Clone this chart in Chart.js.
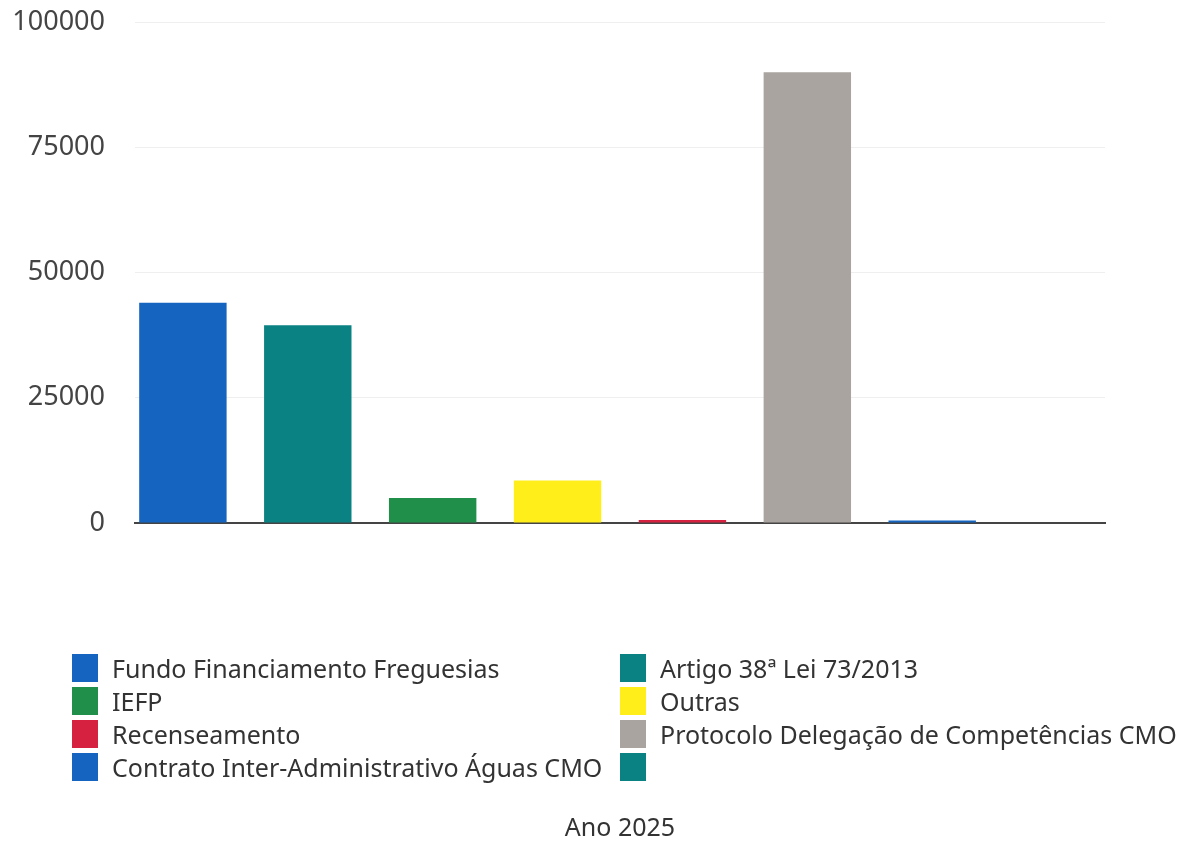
<!DOCTYPE html>
<html>
<head>
<meta charset="utf-8">
<script src="https://cdn.jsdelivr.net/npm/chart.js@4"></script>
<style>
  html, body { margin: 0; padding: 0; background: #fff; }
  #wrap { position: relative; width: 1188px; height: 841px; }
  #legend {
    position: absolute; left: 72px; top: 654px;
    display: grid; grid-template-columns: 548px 560px;
    row-gap: 5px;
    font-family: "Noto Sans", sans-serif; font-size: 25px; color: #333;
    white-space: nowrap;
  }
  .item { display: flex; align-items: center; height: 28px; }
  .box { width: 26px; height: 28px; margin-right: 14px; flex: none; }
</style>
</head>
<body>
<div id="wrap">
  <canvas id="chart" width="1188" height="841"></canvas>
  <div id="legend"></div>
</div>
<script>
const seriesNames = [
  'Fundo Financiamento Freguesias',
  'Artigo 38ª Lei 73/2013',
  'IEFP',
  'Outras',
  'Recenseamento',
  'Protocolo Delegação de Competências CMO',
  'Contrato Inter-Administrativo Águas CMO',
  ''
];
const seriesValues = [44000, 39500, 5000, 8500, 600, 90000, 500, 0];
const seriesColors = ['#1565c0', '#0a8284', '#1f8f4a', '#ffee1a', '#d62240', '#a9a49f', '#1565c0', '#0a8284'];
const categories = [''];
const xTitle = 'Ano 2025';

const datasets = seriesNames.map((name, i) => ({
  label: name,
  data: [seriesValues[i]],
  backgroundColor: seriesColors[i],
  borderWidth: 0,
  barPercentage: 0.7,
  categoryPercentage: 1.03
}));

const ctx = document.getElementById('chart').getContext('2d');
const chart = new Chart(ctx, {
  type: 'bar',
  data: { labels: categories, datasets: datasets },
  options: {
    responsive: false,
    animation: false,
    layout: { padding: { top: 4, left: 8, right: 83, bottom: 0 } },
    plugins: { legend: { display: false }, tooltip: { enabled: false } },
    scales: {
      x: {
        grid: { display: false, drawTicks: false },
        border: { color: '#444', width: 2 },
        ticks: { display: false },
        title: {
          display: true, text: xTitle, color: '#333',
          font: { family: 'Noto Sans', size: 25, lineHeight: 1 },
          padding: { top: 293, bottom: 0 }
        }
      },
      y: {
        min: 0, max: 100000,
        afterFit: (scale) => { scale.width = 127; },
        ticks: {
          stepSize: 25000, color: '#444', padding: 6,
          font: { family: 'Noto Sans', size: 27 },
          callback: (v) => String(v)
        },
        grid: { color: '#efefef', drawTicks: true, tickLength: 24, tickColor: 'rgba(0,0,0,0)' },
        border: { display: false }
      }
    }
  }
});

// legend in two columns, built from the chart's datasets
const legendEl = document.getElementById('legend');
chart.data.datasets.forEach(ds => {
  const item = document.createElement('div');
  item.className = 'item';
  const box = document.createElement('span');
  box.className = 'box';
  box.style.background = ds.backgroundColor;
  const txt = document.createElement('span');
  txt.textContent = ds.label;
  item.appendChild(box);
  item.appendChild(txt);
  legendEl.appendChild(item);
});
</script>
</body>
</html>
